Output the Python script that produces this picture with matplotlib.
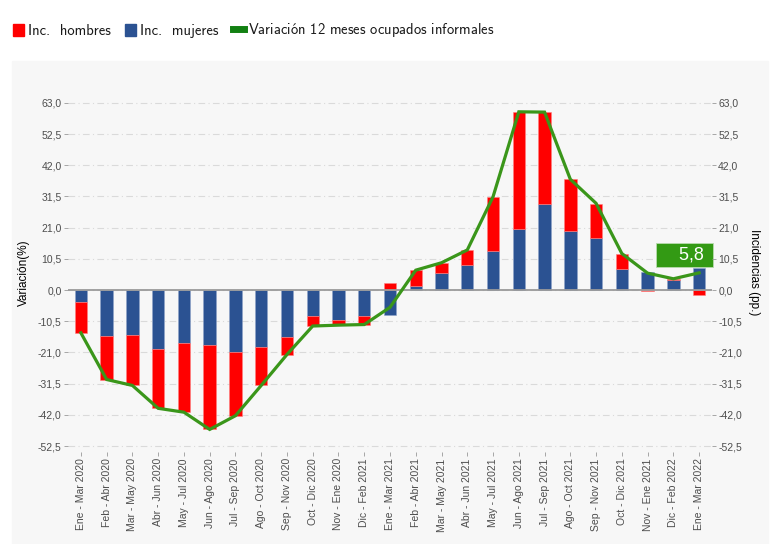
import numpy as np
import matplotlib
matplotlib.use("Agg")
import matplotlib.pyplot as plt
import matplotlib.patches as patches
from matplotlib.lines import Line2D
from matplotlib.ticker import FuncFormatter

plt.rcParams["mathtext.fontset"] = "cm"

periods = ["Ene - Mar 2020", "Feb - Abr 2020", "Mar - May 2020", "Abr - Jun 2020",
           "May - Jul 2020", "Jun - Ago 2020", "Jul - Sep 2020", "Ago - Oct 2020",
           "Sep - Nov 2020", "Oct - Dic 2020", "Nov - Ene 2020", "Dic - Feb 2021",
           "Ene - Mar 2021", "Feb - Abr 2021", "Mar - May 2021", "Abr - Jun 2021",
           "May - Jul 2021", "Jun - Ago 2021", "Jul - Sep 2021", "Ago - Oct 2021",
           "Sep - Nov 2021", "Oct - Dic 2021", "Nov - Ene 2021", "Dic - Feb 2022",
           "Ene - Mar 2022"]

inc_hombres = [-10.4, -14.7, -16.9, -20.0, -23.4, -28.4, -21.4, -12.9, -5.8, -3.3,
               -1.5, -3.0, 2.5, 5.2, 3.5, 5.1, 18.4, 39.5, 30.8, 17.4,
               11.7, 5.1, -0.4, 0.5, -1.5]
inc_mujeres = [-4.0, -15.4, -15.2, -19.8, -17.8, -18.5, -20.9, -19.2, -15.9, -8.8,
               -10.1, -8.6, -8.3, 1.5, 5.7, 8.4, 13.0, 20.4, 29.1, 19.9,
               17.4, 7.2, 6.1, 3.3, 7.3]
var_informales = [-14.4, -30.1, -32.1, -39.8, -41.1, -46.9, -42.3, -32.1, -21.7, -12.1,
                  -11.8, -11.6, -5.8, 6.7, 9.2, 13.5, 31.4, 60.0, 59.9, 37.3,
                  29.2, 12.3, 5.7, 3.8, 5.8]
yticks = [-52.5, -42.0, -31.5, -21.0, -10.5, 0.0, 10.5, 21.0, 31.5, 42.0, 52.5, 63.0]

RED = "#ff0000"
BLUE = "#2b5292"
GREEN = "#3a961a"
PANEL = "#f7f7f7"
TICK_C = "#4d4d4d"
comma_fmt = FuncFormatter(lambda v, p: f"{v:.1f}".replace(".", ","))

fig = plt.figure(figsize=(7.72, 5.44), dpi=100, facecolor="white")
fig.patches.append(patches.Rectangle((12 / 772, 0), 756 / 772, 483 / 544,
                                     transform=fig.transFigure, color=PANEL, zorder=-10))
ax = fig.add_axes([68 / 772, 1 - 452 / 544, 644 / 772, 359.5 / 544])
ax.set_facecolor(PANEL)

x = np.arange(len(periods))
men = np.array(inc_hombres)
women = np.array(inc_mujeres)
red_bottom = np.where(np.sign(men) == np.sign(women), women, 0)

ax.bar(x, women, width=0.48, color=BLUE, edgecolor="#8fa3c8", linewidth=0.4, zorder=2)
ax.bar(x, men, width=0.48, bottom=red_bottom, color=RED, edgecolor="#ff8080",
       linewidth=0.4, zorder=2)
ax.axhline(0, color="#9a9a9a", lw=1.3, zorder=3)
ax.plot(x, var_informales, color=GREEN, lw=2.3, zorder=4, solid_joinstyle="miter")

last = var_informales[-1]
ax.annotate("    " + f"{last:.1f}".replace(".", ",") + " ", xy=(x[-1], last),
            xytext=(10, 17.5), textcoords="offset pixels", ha="right", va="center",
            color="white", fontsize=13, family="Liberation Sans", zorder=6,
            bbox=dict(boxstyle="square,pad=0.2", fc="#339a14", ec="#b8dcae", lw=0.6),
            annotation_clip=False)

ax.set_xlim(-0.5, len(periods) - 0.5)
ax.set_ylim(-54.5, 66.5)
ax.set_yticks(yticks)
ax.yaxis.set_major_formatter(comma_fmt)
ax.set_xticks(x)
ax.set_xticklabels(periods, rotation=90, fontsize=7.5, color=TICK_C, family="Liberation Sans")
ax.tick_params(axis="y", labelsize=7.5, labelcolor=TICK_C, color="#999999", length=3,
               width=0.6, pad=1.5)
ax.tick_params(axis="x", color="#999999", length=3, width=0.6, pad=1.5)
ax.grid(axis="y", color="#dadada", lw=0.8, ls=(0, (6, 3, 1, 3)), zorder=0)
for s in ax.spines.values():
    s.set_visible(False)
ax.set_ylabel("Variación(%)", fontsize=8.5, family="Liberation Sans", labelpad=6)

# right axis mirrors the left one
ax2 = ax.twinx()
ax2.set_ylim(ax.get_ylim())
ax2.set_yticks(yticks)
ax2.yaxis.set_major_formatter(comma_fmt)
ax2.tick_params(axis="y", labelsize=7.5, labelcolor=TICK_C, color="#999999", length=3,
                width=0.6, pad=1.5)
for s in ax2.spines.values():
    s.set_visible(False)
ax2.set_ylabel("Incidencias (pp.)", fontsize=8.5, family="Liberation Sans",
               rotation=270, labelpad=13)
for lab in ax.get_yticklabels() + ax2.get_yticklabels():
    lab.set_family("Liberation Sans")

handles = [patches.Patch(color=RED), patches.Patch(color=BLUE),
           Line2D([], [], color="#128012", lw=5)]
labels = ["Inc.  hombres", "Inc.  mujeres",
          r"Variaci$\acute{\mathsf{o}}$n 12 meses ocupados informales"]
leg = fig.legend(handles, labels, loc="upper left", bbox_to_anchor=(0.009, 0.972), ncol=3,
                 frameon=False, prop={"family": "cmss10", "size": 10.5}, borderaxespad=0,
                 handlelength=0.75, handleheight=0.89, handletextpad=0.27, columnspacing=1.0)
for t in leg.get_texts():
    t.set_color("#1a1a1a")

fig.savefig("out.png", dpi=100, facecolor="white")
